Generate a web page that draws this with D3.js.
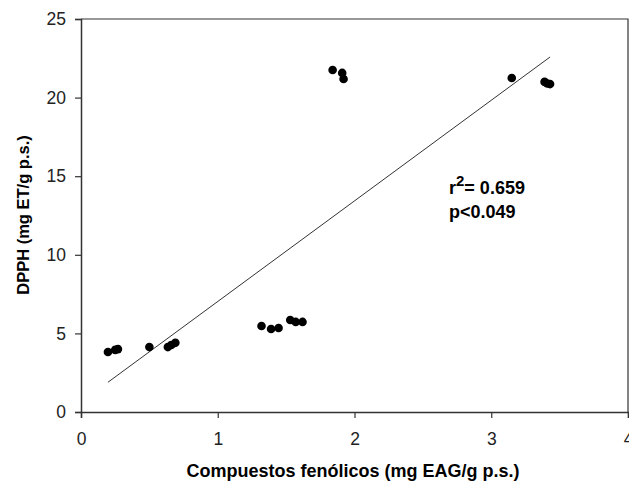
<!DOCTYPE html>
<html>
<head>
<meta charset="utf-8">
<script src="https://cdn.jsdelivr.net/npm/d3@7"></script>
<style>
  body { margin: 0; background: #fff; }
  text { font-family: "Liberation Sans", Arial, sans-serif; }
</style>
</head>
<body>
<div id="chart"></div>
<script>
// Data
var phenolics = [0.197, 0.25, 0.27, 0.50, 0.635, 0.66, 0.69, 1.32, 1.39, 1.445, 1.53, 1.57, 1.62, 1.84, 1.91, 1.92, 3.15, 3.39, 3.41, 3.43];
var dpph = [3.82, 3.95, 4.0, 4.13, 4.13, 4.26, 4.4, 5.47, 5.28, 5.34, 5.85, 5.73, 5.73, 21.76, 21.57, 21.18, 21.25, 21.0, 20.9, 20.86];
// fitted line: [intercept, slope]
var fit = [0.63, 6.4];
var xTicks = [0, 1, 2, 3, 4];
var yTicks = [0, 5, 10, 15, 20, 25];

var width = 629, height = 485;
var margin = {top: 19, right: 1, bottom: 73, left: 81};

var $svg = d3.select('#chart').append('svg')
    .attr('width', width).attr('height', height);

var x = d3.scaleLinear().domain([0, 4]).range([margin.left, width - margin.right]);
var y = d3.scaleLinear().domain([0, 25]).range([height - margin.bottom, margin.top]);

// frame (top and right)
$svg.append('path')
    .attr('d', 'M' + x(0) + ',' + y(25) + 'H' + x(4) + 'V' + y(0))
    .attr('fill', 'none').attr('stroke', '#333').attr('stroke-width', 1.2);

var $xAxis = $svg.append('g')
    .attr('transform', 'translate(0,' + y(0) + ')')
    .call(d3.axisBottom(x).tickValues(xTicks).tickSize(6).tickPadding(15).tickFormat(d3.format('d')));

var $yAxis = $svg.append('g')
    .attr('transform', 'translate(' + x(0) + ',0)')
    .call(d3.axisLeft(y).tickValues(yTicks).tickSize(6).tickPadding(9).tickFormat(d3.format('d')));

[$xAxis, $yAxis].forEach(function($a) {
  $a.select('.domain').attr('stroke', '#333').attr('stroke-width', 1.5);
  $a.selectAll('.tick line').attr('stroke', '#333').attr('stroke-width', 1.2);
  $a.selectAll('.tick text').style('font-size', '17.5px').attr('fill', '#222')
    .style('font-family', '"Liberation Sans", Arial, sans-serif');
});

// regression line over the data range
var xr = d3.extent(phenolics);
$svg.append('line')
    .attr('x1', x(xr[0])).attr('y1', y(fit[0] + fit[1] * xr[0]))
    .attr('x2', x(xr[1])).attr('y2', y(fit[0] + fit[1] * xr[1]))
    .attr('stroke', '#333').attr('stroke-width', 1);

// points
$svg.selectAll('circle.pt')
    .data(phenolics)
    .enter()
    .append('circle')
    .attr('class', 'pt')
    .attr('cx', function(d) { return x(d); })
    .attr('cy', function(d, i) { return y(dpph[i]); })
    .attr('r', 4.3)
    .attr('fill', '#000');

// annotation
var $r2 = $svg.append('text')
    .attr('x', 449).attr('y', 194)
    .style('font-size', '18px').style('font-weight', 'bold');
$r2.append('tspan').text('r');
$r2.append('tspan').attr('dy', -8).style('font-size', '15px').text('2');
$r2.append('tspan').attr('dy', 8).text('= 0.659');

$svg.append('text')
    .attr('x', 449).attr('y', 218)
    .style('font-size', '18px').style('font-weight', 'bold')
    .text('p<0.049');

// axis titles
$svg.append('text')
    .attr('x', 353).attr('y', 477)
    .attr('text-anchor', 'middle')
    .style('font-size', '18px').style('font-weight', 'bold')
    .text('Compuestos fenólicos (mg EAG/g p.s.)');

$svg.append('text')
    .attr('transform', 'translate(29,' + 215 + ') rotate(-90)')
    .attr('text-anchor', 'middle')
    .style('font-size', '16.5px').style('font-weight', 'bold')
    .text('DPPH (mg ET/g p.s.)');
</script>
</body>
</html>
